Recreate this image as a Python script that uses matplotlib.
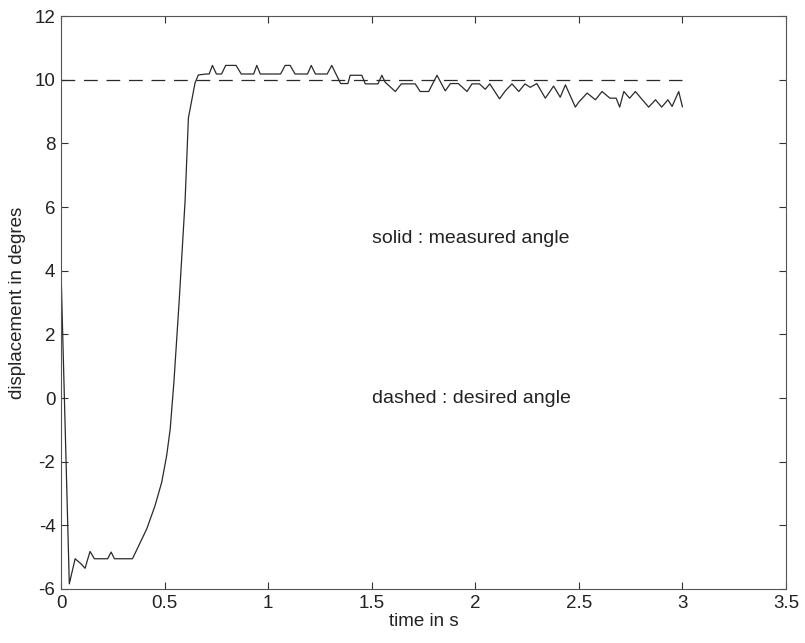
import numpy as np
import matplotlib
matplotlib.use("Agg")
import matplotlib.pyplot as plt

# measured angle (solid) - sampled trace of the step response
t_meas = [0.000, 0.040, 0.068, 0.095, 0.116, 0.140, 0.161, 0.225, 0.242, 0.258,
          0.345, 0.414, 0.454, 0.486, 0.510, 0.527, 0.545, 0.570, 0.599, 0.615,
          0.647, 0.663, 0.700, 0.715, 0.731, 0.750, 0.775, 0.795, 0.845, 0.870,
          0.930, 0.945, 0.962, 1.060, 1.082, 1.106, 1.130, 1.190, 1.208, 1.228,
          1.285, 1.307, 1.350, 1.385, 1.396, 1.452, 1.469, 1.530, 1.549, 1.565,
          1.614, 1.643, 1.710, 1.734, 1.775, 1.815, 1.855, 1.880, 1.918, 1.960,
          1.984, 2.020, 2.048, 2.070, 2.117, 2.145, 2.177, 2.210, 2.240, 2.265,
          2.297, 2.338, 2.378, 2.410, 2.435, 2.483, 2.500, 2.540, 2.580, 2.612,
          2.650, 2.680, 2.697, 2.717, 2.745, 2.773, 2.800, 2.837, 2.870, 2.900,
          2.930, 2.950, 2.982, 3.000]
v_meas = [4.00, -5.84, -5.05, -5.20, -5.35, -4.82, -5.05, -5.05, -4.84, -5.05,
          -5.05, -4.11, -3.38, -2.65, -1.81, -0.98, 0.50, 3.00, 6.20, 8.80,
          9.90, 10.15, 10.18, 10.18, 10.45, 10.18, 10.18, 10.45, 10.45, 10.18,
          10.18, 10.45, 10.18, 10.18, 10.45, 10.45, 10.18, 10.18, 10.45, 10.18,
          10.18, 10.45, 9.88, 9.88, 10.14, 10.14, 9.87, 9.87, 10.14, 9.92,
          9.63, 9.87, 9.87, 9.63, 9.63, 10.14, 9.65, 9.88, 9.88, 9.63,
          9.87, 9.87, 9.70, 9.87, 9.40, 9.65, 9.87, 9.63, 9.87, 9.76,
          9.88, 9.42, 9.80, 9.45, 9.84, 9.14, 9.30, 9.58, 9.37, 9.63,
          9.42, 9.42, 9.14, 9.63, 9.42, 9.63, 9.42, 9.14, 9.37, 9.14,
          9.37, 9.16, 9.63, 9.15]

# desired angle (dashed)
t_des = [0.0, 3.0]
v_des = [10.0, 10.0]

x_ticks = [0, 0.5, 1, 1.5, 2, 2.5, 3, 3.5]
y_ticks = [-6, -4, -2, 0, 2, 4, 6, 8, 10, 12]

plt.rcParams["font.family"] = ["Liberation Sans", "DejaVu Sans"]
plt.rcParams["axes.unicode_minus"] = False

fig = plt.figure(figsize=(8.05, 6.43), dpi=100)
ax = fig.add_axes([0.0758, 0.084, 0.9006, 0.891])

ax.plot(t_meas, v_meas, color="#2a2a2a", lw=0.9)
ax.plot(t_des, v_des, color="#2a2a2a", lw=0.9, linestyle=(0, (11, 7)))

ax.text(1.5, 5.0, "solid : measured angle", fontsize=14, color="#222222",
        va="center", ha="left")
ax.text(1.5, 0.0, "dashed : desired angle", fontsize=14, color="#222222",
        va="center", ha="left")

ax.set_xlim(0, 3.5)
ax.set_ylim(-6, 12)
ax.set_xticks(x_ticks)
ax.set_xticklabels(["0", "0.5", "1", "1.5", "2", "2.5", "3", "3.5"])
ax.set_yticks(y_ticks)
ax.tick_params(direction="in", length=5, width=0.8, top=True, right=True,
               labelsize=13.5, colors="#333333", labelcolor="#222222", pad=4)
for s in ax.spines.values():
    s.set_linewidth(0.8)
    s.set_color("#555555")

ax.set_xlabel("time in s", fontsize=13.5, color="#222222", labelpad=1)
ax.set_ylabel("displacement in degres", fontsize=13.5, color="#222222", labelpad=6)

fig.savefig("out.png", dpi=100)
